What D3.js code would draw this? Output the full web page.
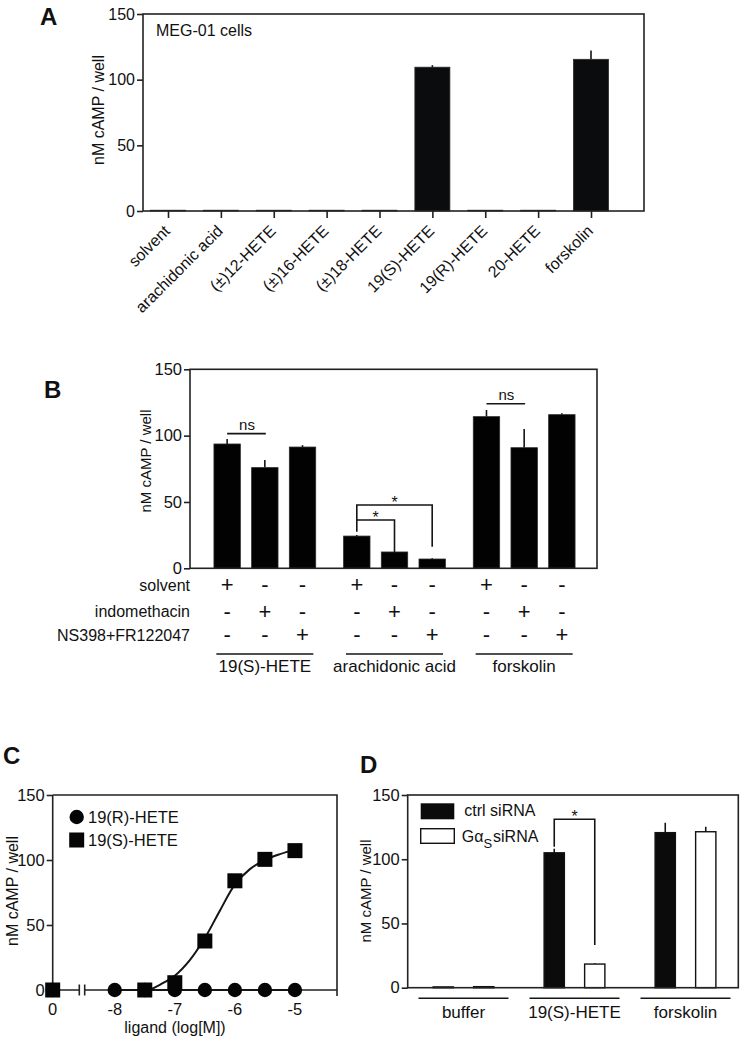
<!DOCTYPE html>
<html><head><meta charset="utf-8">
<script src="https://cdn.jsdelivr.net/npm/d3@7"></script>
<style>
body{margin:0;background:#fff}
svg{display:block}
text{font-family:"Liberation Sans",Arial,Helvetica,sans-serif;fill:#111}
</style>
</head><body>
<svg id="fig" width="748" height="1038"></svg>
<script>
// ---------- Data ----------
const yTicks = [0, 50, 100, 150];

// Panel A
const aCategories = ["solvent","arachidonic acid","(±)12-HETE","(±)16-HETE","(±)18-HETE","19(S)-HETE","19(R)-HETE","20-HETE","forskolin"];
const aValues = [0.6, 0.6, 0.6, 0.6, 0.6, 109.5, 0.6, 0.6, 115.5];
const aErrors = [0, 0, 0, 0, 0, 1.5, 0, 0, 6.8];

// Panel B
const bGroups = ["19(S)-HETE","arachidonic acid","forskolin"];
const bConditions = ["solvent","indomethacin","NS398+FR122047"];
const bValues = [[93.7, 75.9, 91.4],[24.3, 12.3, 7.0],[114.3, 90.9, 115.8]];
const bErrors = [[3.8, 5.7, 1.4],[0.8, 1.5, 0.5],[5.0, 14.1, 1.0]];
const bSigns = [["+","-","-"],["-","+","-"],["-","-","+"]]; // rows: conditions, cols: bar within group

// Panel C
const cRConc = [0, -8, -7.5, -7, -6.5, -6, -5.5, -5];
const cRValues = [0, 0, 0, 0, 0, 0, 0, 0];
const cSConc = [0, -7.5, -7, -6.5, -6, -5.5, -5];
const cSValues = [0, 0, 5.6, 37.7, 84, 100.5, 107.2];
const cFitConc = [-7.42, -7.25, -7.0, -6.75, -6.5, -6.25, -6.0, -5.75, -5.5, -5.25, -5.0];
const cFitValues = [0, 4, 11, 23, 40, 61, 81, 93, 100, 104.5, 108];
const cXTicks = [0, -8, -7, -6, -5];

// Panel D
const dGroups = ["buffer","19(S)-HETE","forskolin"];
const dSeries = ["ctrl siRNA","Gαs siRNA"];
const dCtrl = [0.6, 105, 120.7];
const dCtrlErr = [0, 3.2, 7.7];
const dGas = [0.8, 18.4, 121.4];
const dGasErr = [0, 0.6, 3.9];

// ---------- Drawing ----------
const svg = d3.select("#fig");
svg.append("rect").attr("width",748).attr("height",1038).attr("fill","#fff");
const INK = "#151515", AX = "#222", SW = 1.6;

function frame(g, y, x0, x1, fontSize, tick) {
  const ax = g.append("g").attr("transform",`translate(${x0},0)`)
    .call(d3.axisLeft(y).tickValues(yTicks).tickSize(tick).tickPadding(2));
  ax.select(".domain").remove();
  ax.selectAll("line").attr("stroke",AX).attr("stroke-width",SW);
  ax.selectAll("text").attr("font-size",fontSize).attr("fill","#111");
  g.append("rect").attr("x",x0).attr("y",y(150)).attr("width",x1-x0).attr("height",y(0)-y(150))
    .attr("fill","none").attr("stroke",AX).attr("stroke-width",SW);
}
function yLabel(g, x, yc, size) {
  g.append("text").attr("transform",`translate(${x},${yc}) rotate(-90)`)
    .attr("text-anchor","middle").attr("font-size",size).text("nM cAMP / well");
}
function letter(g, x, y, t) {
  g.append("text").attr("x",x).attr("y",y).attr("font-size",24).attr("font-weight","bold").text(t);
}

// ===== Panel A =====
{
  const g = svg.append("g");
  const L = 143, R = 644;
  const y = d3.scaleLinear().domain([0,150]).range([211, 14]);
  const x = d3.scalePoint().domain(aCategories).range([168, 591]);
  const bw = 35;
  g.selectAll("rect.bar").data(aCategories).join("rect").attr("class","bar")
    .attr("x",d=>x(d)-bw/2).attr("width",bw)
    .attr("y",(d,i)=>y(aValues[i])).attr("height",(d,i)=>y(0)-y(aValues[i]))
    .attr("fill","#0b0c0d").attr("stroke","#2a2a2a").attr("stroke-width",0.8);
  g.selectAll("line.err").data(aCategories.filter((d,i)=>aErrors[i]>0)).join("line").attr("class","err")
    .attr("x1",d=>x(d)).attr("x2",d=>x(d))
    .attr("y1",d=>y(aValues[aCategories.indexOf(d)]))
    .attr("y2",d=>y(aValues[aCategories.indexOf(d)]+aErrors[aCategories.indexOf(d)]))
    .attr("stroke",INK).attr("stroke-width",SW);
  frame(g, y, L, R, 16, 6);
  const xa = g.append("g").attr("transform",`translate(0,${y(0)})`)
    .call(d3.axisBottom(x).tickSize(7).tickFormat(""));
  xa.select(".domain").remove();
  xa.selectAll("line").attr("stroke",AX).attr("stroke-width",SW);
  g.selectAll("text.xl").data(aCategories).join("text").attr("class","xl")
    .attr("transform",d=>`translate(${x(d)+3},${y(0)+21}) rotate(-45)`)
    .attr("text-anchor","end").attr("font-size",16).text(d=>d);
  yLabel(g, 104, 110, 16);
  g.append("text").attr("x",156).attr("y",36).attr("font-size",16).text("MEG-01 cells");
  letter(g, 40, 25, "A");
}

// ===== Panel B =====
{
  const g = svg.append("g");
  const L = 190, R = 597;
  const y = d3.scaleLinear().domain([0,150]).range([568.3, 369.3]);
  const x0 = d3.scaleBand().domain(bGroups).range([200, 589]).padding(0);
  const x1 = d3.scaleBand().domain([0,1,2]).range([0, x0.bandwidth()]).paddingInner(0.3).paddingOuter(0.37);
  const bw = x1.bandwidth();
  const cx = (gi, j) => x0(bGroups[gi]) + x1(j) + bw/2;
  const bars = [];
  bValues.forEach((vals, gi) => vals.forEach((v, j) => bars.push({gi, j, v, e: bErrors[gi][j]})));
  g.selectAll("line.err").data(bars).join("line").attr("class","err")
    .attr("x1",d=>cx(d.gi,d.j)).attr("x2",d=>cx(d.gi,d.j))
    .attr("y1",d=>y(d.v)).attr("y2",d=>y(d.v+d.e))
    .attr("stroke",INK).attr("stroke-width",SW);
  g.selectAll("rect.bar").data(bars).join("rect").attr("class","bar")
    .attr("x",d=>cx(d.gi,d.j)-bw/2).attr("width",bw)
    .attr("y",d=>y(d.v)).attr("height",d=>y(0)-y(d.v))
    .attr("fill","#020202").attr("stroke","#2a2a2a").attr("stroke-width",0.8);
  frame(g, y, L, R, 16.5, 6);
  yLabel(g, 151, 461, 15);
  letter(g, 44, 398, "B");

  // ns lines
  const ns = [{gi:0, lvl:101.5},{gi:2, lvl:124}];
  ns.forEach(n => {
    const xa = cx(n.gi,0), xb = cx(n.gi,1);
    g.append("line").attr("x1",xa).attr("x2",xb+1).attr("y1",y(n.lvl)).attr("y2",y(n.lvl))
      .attr("stroke",INK).attr("stroke-width",SW);
    g.append("text").attr("x",(xa+xb)/2+1).attr("y",y(n.lvl)-4).attr("text-anchor","middle")
      .attr("font-size",15).text("ns");
  });
  // significance brackets (arachidonic acid group)
  const brackets = [{to:1, lvl:36.4, start:27.6, end:13.8},{to:2, lvl:47.7, start:36.4, end:16.3}];
  brackets.forEach(b => {
    const xa = cx(1,0), xb = cx(1,b.to);
    g.append("path").attr("d",`M${xa},${y(b.start)}V${y(b.lvl)}H${xb}V${y(b.end)}`)
      .attr("fill","none").attr("stroke",INK).attr("stroke-width",SW);
    g.append("text").attr("x",(xa+xb)/2).attr("y",y(b.lvl)+3).attr("text-anchor","middle")
      .attr("font-size",16).text("*");
  });
  // condition table
  const rowY = [590.5, 617, 640.5];
  bConditions.forEach((c, r) => {
    g.append("text").attr("x",190).attr("y",rowY[r]).attr("text-anchor","end").attr("font-size",16).text(c);
    bGroups.forEach((gr, gi) => {
      [0,1,2].forEach(j => {
        g.append("text").attr("x",cx(gi,j)).attr("y",rowY[r]+1.5).attr("text-anchor","middle")
          .attr("font-size",22).text(bSigns[r][j]);
      });
    });
  });
  bGroups.forEach((gr, gi) => {
    const c = x0(gr) + x0.bandwidth()/2;
    g.append("line").attr("x1",c-48.5).attr("x2",c+48.5).attr("y1",654).attr("y2",654)
      .attr("stroke",INK).attr("stroke-width",SW);
    g.append("text").attr("x",c).attr("y",672).attr("text-anchor","middle").attr("font-size",17).text(gr);
  });
}

// ===== Panel C =====
{
  const g = svg.append("g");
  const L = 52.7, R = 337;
  const y = d3.scaleLinear().domain([0,150]).range([990, 795]);
  const xl = d3.scaleLinear().domain([-8.5, -4.3]).range([84.7, 337]);
  const xz = d3.scaleLinear().domain([0, 1]).range([L, 79.3]);
  const xv = v => v === 0 ? xz(0) : xl(v);
  const ay = g.append("g").attr("transform",`translate(${L},0)`)
    .call(d3.axisLeft(y).tickValues(yTicks).tickSize(6).tickPadding(2));
  ay.selectAll("line").attr("stroke",AX).attr("stroke-width",SW);
  ay.select(".domain").attr("stroke",AX).attr("stroke-width",SW).attr("d",`M0,${y(150)}V${y(0)}`);
  ay.selectAll("text").attr("font-size",16.5).attr("fill","#111");
  g.append("path").attr("d",`M${L},${y(150)}H${R}V${y(0)}`).attr("fill","none").attr("stroke",AX).attr("stroke-width",SW);
  // broken x axis
  g.append("path").attr("d",`M${L},${y(0)}H${xz(1)}M${xl(-8.5)},${y(0)}H${R}`).attr("stroke",AX).attr("stroke-width",SW).attr("fill","none");
  [xz(1), xl(-8.5)].forEach(bx => g.append("line").attr("x1",bx).attr("x2",bx).attr("y1",y(0)-5.5).attr("y2",y(0)+5.5)
    .attr("stroke",AX).attr("stroke-width",SW));
  g.selectAll("line.xt").data(cXTicks.concat([-4.3])).join("line").attr("class","xt")
    .attr("x1",d=>xv(d)).attr("x2",d=>xv(d)).attr("y1",y(0)).attr("y2",y(0)+6)
    .attr("stroke",AX).attr("stroke-width",SW);
  g.selectAll("text.xt").data(cXTicks).join("text").attr("class","xt")
    .attr("x",d=>xv(d)).attr("y",1015).attr("text-anchor","middle").attr("font-size",16.5)
    .text(d=>String(d));
  g.append("text").attr("x",175).attr("y",1033).attr("text-anchor","middle").attr("font-size",16).text("ligand (log[M])");
  // fit curve
  g.append("path").datum(cFitConc.map((c,i)=>[c,cFitValues[i]]))
    .attr("d",d3.line().x(d=>xl(d[0])).y(d=>y(d[1])).curve(d3.curveCatmullRom))
    .attr("fill","none").attr("stroke",INK).attr("stroke-width",2);
  // 19(R) flat line
  g.append("path").datum(cRConc.filter(c=>c!==0).map((c,i)=>[c,0]))
    .attr("d",d3.line().x(d=>xl(d[0])).y(d=>y(d[1])))
    .attr("fill","none").attr("stroke",INK).attr("stroke-width",2);
  // points
  g.selectAll("circle.r").data(cRConc).join("circle").attr("class","r")
    .attr("cx",d=>xv(d)).attr("cy",(d,i)=>y(cRValues[i])).attr("r",7.2).attr("fill","#050505");
  const s = 15;
  g.selectAll("rect.s").data(cSConc).join("rect").attr("class","s")
    .attr("x",d=>xv(d)-s/2).attr("y",(d,i)=>y(cSValues[i])-s/2).attr("width",s).attr("height",s).attr("fill","#050505");
  // legend
  g.append("circle").attr("cx",76.7).attr("cy",817).attr("r",7.2).attr("fill","#050505");
  g.append("text").attr("x",88).attr("y",823).attr("font-size",16.5).text("19(R)-HETE");
  g.append("rect").attr("x",69.2).attr("y",832.5).attr("width",s).attr("height",s).attr("fill","#050505");
  g.append("text").attr("x",88).attr("y",846).attr("font-size",16.5).text("19(S)-HETE");
  yLabel(g, 18, 891, 16);
  letter(g, 3, 764, "C");
}

// ===== Panel D =====
{
  const g = svg.append("g");
  const L = 407.7, R = 738.3;
  const y = d3.scaleLinear().domain([0,150]).range([987.7, 795]);
  const x0 = d3.scaleBand().domain(dGroups).range([408, 741]).padding(0);
  const x1 = d3.scaleBand().domain(dSeries).range([0, x0.bandwidth()]).paddingInner(0.5).paddingOuter(0.62);
  const bw = x1.bandwidth();
  const cx = (gi, s) => x0(dGroups[gi]) + x1(s) + bw/2;
  const bars = [];
  dGroups.forEach((gr, gi) => {
    bars.push({gi, s: dSeries[0], v: dCtrl[gi], e: dCtrlErr[gi], fill: "#0b0b0b"});
    bars.push({gi, s: dSeries[1], v: dGas[gi], e: dGasErr[gi], fill: "#fff"});
  });
  g.selectAll("line.err").data(bars).join("line").attr("class","err")
    .attr("x1",d=>cx(d.gi,d.s)).attr("x2",d=>cx(d.gi,d.s))
    .attr("y1",d=>y(d.v)).attr("y2",d=>y(d.v+d.e))
    .attr("stroke",INK).attr("stroke-width",SW);
  g.selectAll("rect.bar").data(bars).join("rect").attr("class","bar")
    .attr("x",d=>cx(d.gi,d.s)-bw/2).attr("width",bw)
    .attr("y",d=>y(d.v)).attr("height",d=>y(0)-y(d.v))
    .attr("fill",d=>d.fill).attr("stroke","#111").attr("stroke-width",1.4);
  frame(g, y, L, R, 16.5, 6);
  yLabel(g, 371, 891, 15);
  letter(g, 360, 773, "D");
  // bracket
  const xa = cx(1, dSeries[0]), xb = cx(1, dSeries[1]);
  g.append("path").attr("d",`M${xa},${y(109.8)}V${y(131.1)}H${xb}V${y(33.2)}`)
    .attr("fill","none").attr("stroke",INK).attr("stroke-width",SW);
  g.append("text").attr("x",(xa+xb)/2).attr("y",y(131.1)+3).attr("text-anchor","middle").attr("font-size",16).text("*");
  // legend
  g.append("rect").attr("x",420.7).attr("y",803.3).attr("width",33.6).attr("height",16).attr("fill","#0b0b0b");
  g.append("text").attr("x",464.3).attr("y",816).attr("font-size",16).text(dSeries[0]);
  g.append("rect").attr("x",420.7).attr("y",828.7).attr("width",33.6).attr("height",14.6).attr("fill","#fff")
    .attr("stroke","#111").attr("stroke-width",1.4);
  const t = g.append("text").attr("x",461.7).attr("y",841.7).attr("font-size",16);
  t.append("tspan").text("Gα");
  t.append("tspan").attr("dy",6).attr("font-size",13).text("S");
  t.append("tspan").attr("dy",-6).attr("dx",1).text("siRNA");
  // group lines/labels
  dGroups.forEach(gr => {
    const c = x0(gr) + x0.bandwidth()/2;
    g.append("line").attr("x1",c-45).attr("x2",c+45).attr("y1",998.3).attr("y2",998.3)
      .attr("stroke",INK).attr("stroke-width",SW);
    g.append("text").attr("x",c).attr("y",1018).attr("text-anchor","middle").attr("font-size",17).text(gr);
  });
}
</script>
</body></html>
